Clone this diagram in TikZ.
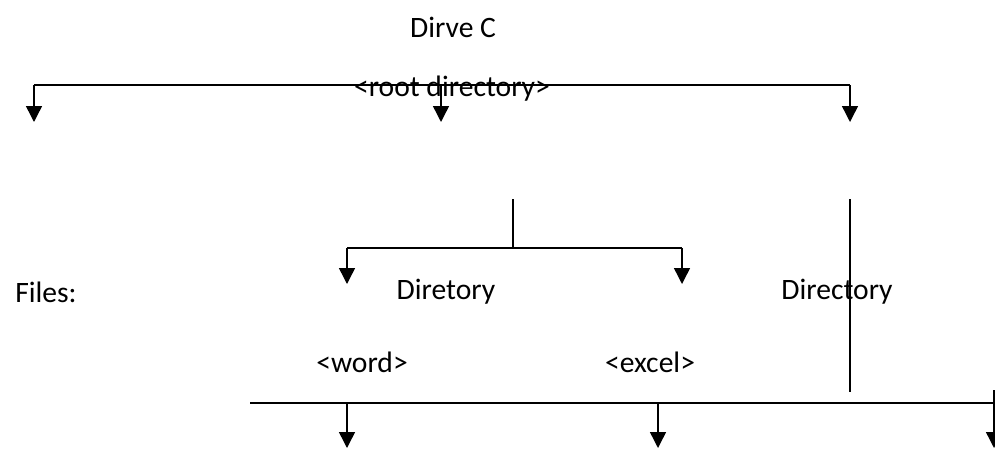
\documentclass[tikz,border=0pt]{standalone}
\usepackage{fontspec}
\setmainfont{Carlito}
\usetikzlibrary{arrows.meta}
\begin{document}
\begin{tikzpicture}[x=0.75pt,y=-0.75pt,
  lbl/.style={inner sep=0pt,font=\fontsize{22.2}{26}\selectfont},
  ln/.style={line width=1.1pt},
  arr/.style={ln,-{Triangle[width=12pt,length=12pt]}}]
\useasboundingbox (0,0) rectangle (995,450);
% texts
\node[lbl] (drive) at (453,27) {Dirve C};
\node[lbl] (root) at (452,89) {<root directory>};
\node[lbl,anchor=west] (files) at (15,292) {Files:};
\node[lbl] (dir1) at (446,292) {Diretory};
\node[lbl] (dir2) at (837,292) {Directory};
\node[lbl] (word) at (362,362) {<word>};
\node[lbl] (excel) at (650,362) {<excel>};
% top level
\coordinate (tl) at (34,85);
\coordinate (tm) at (441,85);
\coordinate (tr) at (850,85);
\coordinate (al) at (34,122);
\coordinate (am) at (441,122);
\coordinate (ar) at (850,122);
\draw[ln] (tl) -- (tr);
\draw[arr] (tl) -- (al);
\draw[arr] (tm) -- (am);
\draw[arr] (tr) -- (ar);
% second level
\coordinate (s0) at (513,199);
\coordinate (s1) at (513,248);
\coordinate (sl) at (347,248);
\coordinate (sr) at (682,248);
\coordinate (sla) at (347,284);
\coordinate (sra) at (682,284);
\draw[ln] (s0) -- (s1);
\draw[ln] (sl) -- (sr);
\draw[arr] (sl) -- (sla);
\draw[arr] (sr) -- (sra);
% long vertical
\coordinate (v0) at (850,199);
\coordinate (v1) at (850,392);
\draw[ln] (v0) -- (v1);
% bottom level
\coordinate (bl) at (250,403);
\coordinate (br) at (994,403);
\coordinate (bt) at (994,390);
\coordinate (b1) at (347,403);
\coordinate (b2) at (658,403);
\coordinate (b1a) at (347,448);
\coordinate (b2a) at (658,448);
\coordinate (b3a) at (994,448);
\draw[ln] (bl) -- (br);
\draw[arr] (b1) -- (b1a);
\draw[arr] (b2) -- (b2a);
\draw[ln] (bt) -- (br);
\draw[arr] (br) -- (b3a);
\end{tikzpicture}
\end{document}
